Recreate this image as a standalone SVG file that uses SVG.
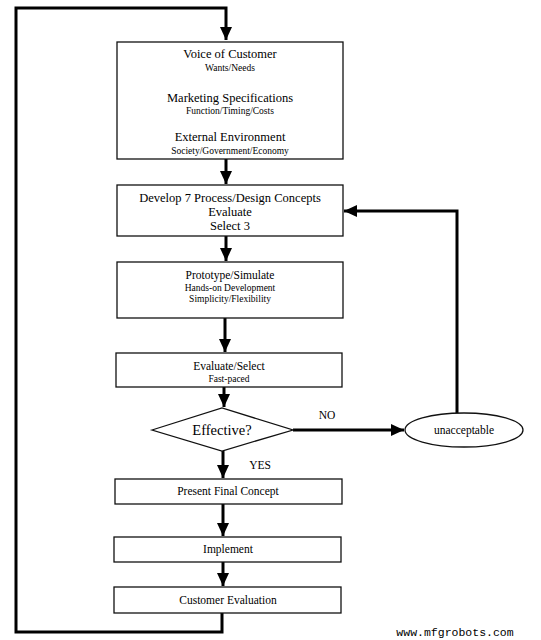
<svg xmlns="http://www.w3.org/2000/svg" width="541" height="640" viewBox="0 0 541 640">
<style>
.box{fill:#fff;stroke:#111;stroke-width:1.3}
.c{fill:none;stroke:#000;stroke-width:3}
text{font-family:"Liberation Serif","Times New Roman",serif;fill:#000;text-anchor:middle}
.t{font-size:12.5px}
.s{font-size:9.5px}
.m{font-size:11.5px}
</style>
<defs>
<marker id="ah" markerUnits="userSpaceOnUse" markerWidth="14" markerHeight="12" refX="13" refY="6" orient="auto">
<path d="M0,0 L13,6 L0,12 Z" fill="#000"/>
</marker>
</defs>
<rect width="541" height="640" fill="#fff"/>
<g id="connectors">
<path class="c" d="M222,613 V632 H16 V8 H226 V40" marker-end="url(#ah)"/>
<path class="c" d="M226,159 V184" marker-end="url(#ah)"/>
<path class="c" d="M226,236 V261" marker-end="url(#ah)"/>
<path class="c" d="M225,318 V352" marker-end="url(#ah)"/>
<path class="c" d="M224,387 V407" marker-end="url(#ah)"/>
<path class="c" d="M223,451 V478" marker-end="url(#ah)"/>
<path class="c" d="M223,504 V536" marker-end="url(#ah)"/>
<path class="c" d="M223,562 V586" marker-end="url(#ah)"/>
<path class="c" d="M293,430 H404" marker-end="url(#ah)"/>
<path class="c" d="M457,413 V211 H344" marker-end="url(#ah)"/>
<text class="m" x="327" y="419">NO</text>
<text class="m" x="260" y="469">YES</text>
</g>
<g id="n1">
<rect class="box" x="117" y="42" width="226" height="117"/>
<text class="t" x="230" y="58">Voice of Customer</text>
<text class="s" x="230" y="71">Wants/Needs</text>
<text class="t" x="230" y="102">Marketing Specifications</text>
<text class="s" x="230" y="114">Function/Timing/Costs</text>
<text class="t" x="230" y="141">External Environment</text>
<text class="s" x="230" y="154">Society/Government/Economy</text>
</g>
<g id="n2">
<rect class="box" x="117" y="185" width="226" height="51"/>
<text class="t" x="230" y="202">Develop 7 Process/Design Concepts</text>
<text class="t" x="230" y="216">Evaluate</text>
<text class="t" x="230" y="230">Select 3</text>
</g>
<g id="n3">
<rect class="box" x="117" y="262" width="226" height="56"/>
<text class="m" x="230" y="279">Prototype/Simulate</text>
<text class="s" x="230" y="291">Hands-on Development</text>
<text class="s" x="230" y="302">Simplicity/Flexibility</text>
</g>
<g id="n4">
<rect class="box" x="116" y="353" width="226" height="34"/>
<text class="m" x="229" y="370">Evaluate/Select</text>
<text class="s" x="229" y="382">Fast-paced</text>
</g>
<g id="n5">
<polygon class="box" points="152,430 222,408 293,430 222,451"/>
<text x="222" y="435" style="font-size:14.5px">Effective?</text>
</g>
<g id="n6">
<ellipse class="box" cx="464" cy="430" rx="59" ry="17"/>
<text class="m" x="464" y="434">unacceptable</text>
</g>
<g id="n7">
<rect class="box" x="115" y="479" width="227" height="25"/>
<text class="m" x="228" y="495">Present Final Concept</text>
</g>
<g id="n8">
<rect class="box" x="114" y="537" width="227" height="25"/>
<text class="m" x="228" y="553">Implement</text>
</g>
<g id="n9">
<rect class="box" x="114" y="587" width="227" height="26"/>
<text class="m" x="228" y="604">Customer Evaluation</text>
</g>
<text x="455" y="636" style="font-family:'Liberation Mono','Courier New',monospace;font-size:11.5px">www.mfgrobots.com</text>
</svg>
